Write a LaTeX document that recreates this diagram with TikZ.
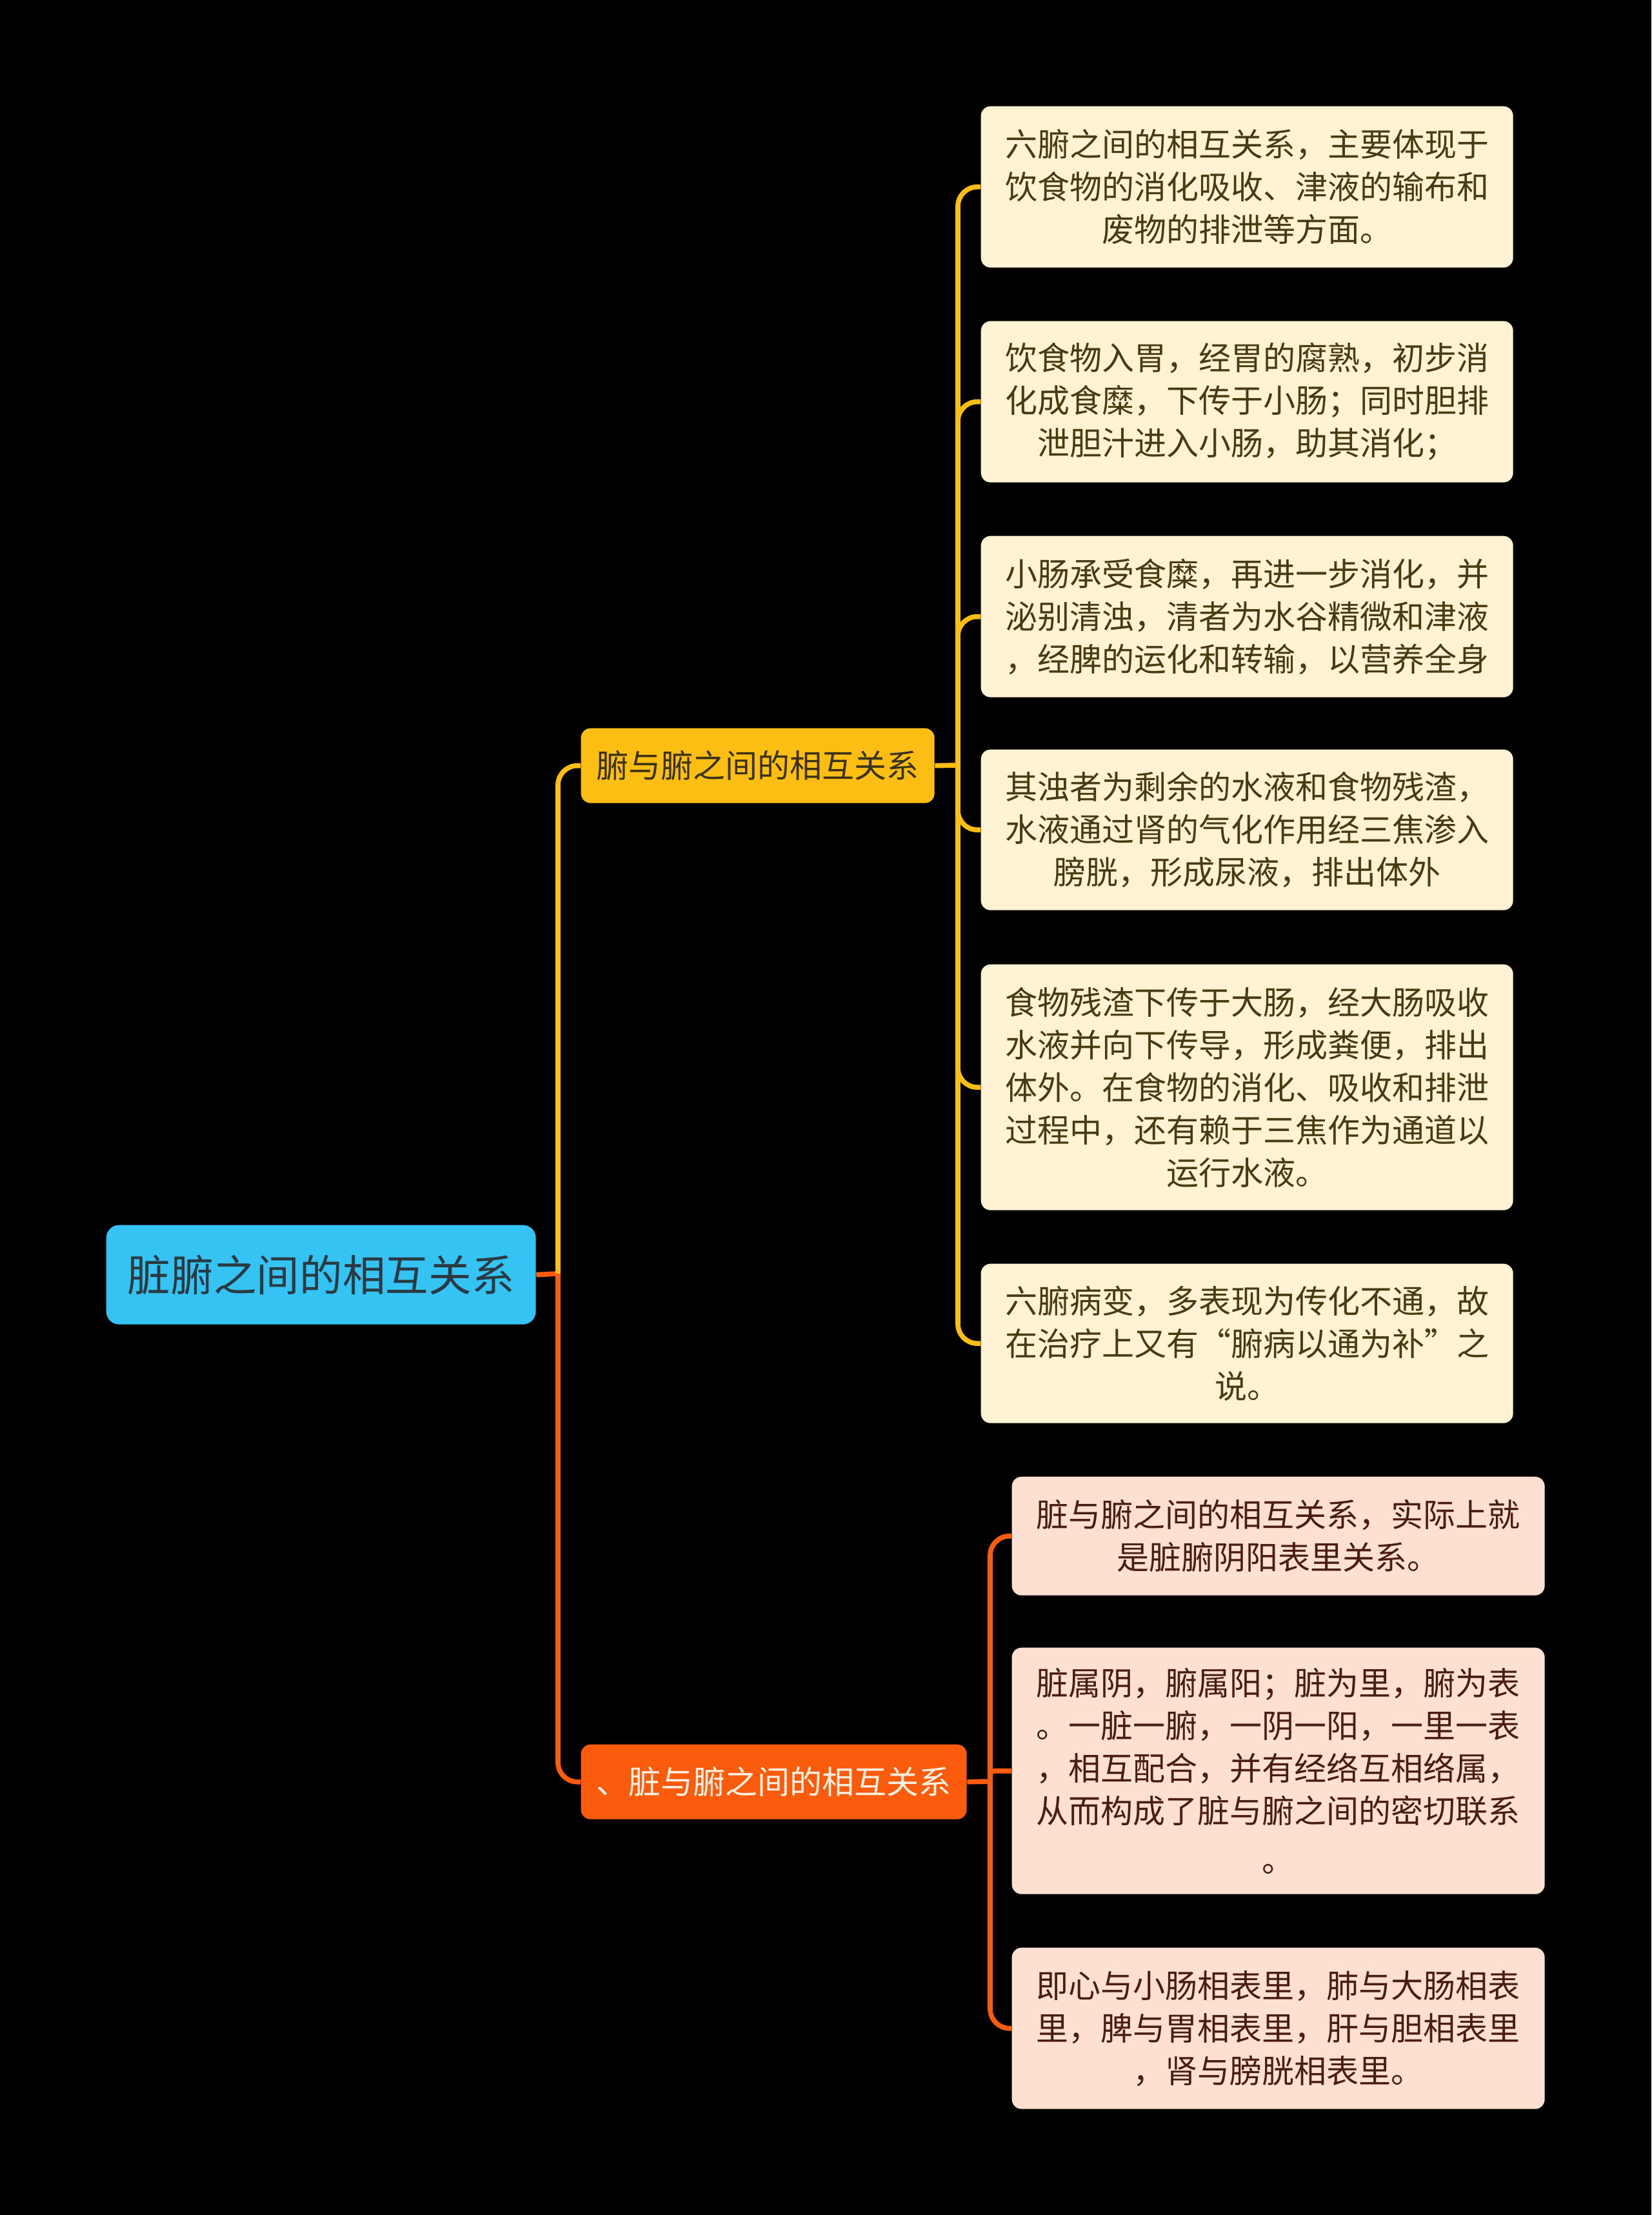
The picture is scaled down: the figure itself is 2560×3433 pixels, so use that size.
\documentclass[tikz,border=0pt]{standalone}
\usepackage{fontspec}
\setmainfont{Noto Sans CJK SC}
\definecolor{bgc}{HTML}{000000}
\definecolor{rootc}{HTML}{35C3F3}
\definecolor{roottxt}{HTML}{2B3A40}
\definecolor{yelc}{HTML}{FDBE14}
\definecolor{yeltxt}{HTML}{3A3216}
\definecolor{orgc}{HTML}{FA5B0C}
\definecolor{orgtxt}{HTML}{FFF1E2}
\definecolor{leafy}{HTML}{FFF3D4}
\definecolor{leafytxt}{HTML}{4A3A12}
\definecolor{leafo}{HTML}{FDE0D0}
\definecolor{leafotxt}{HTML}{4A1D0E}
\tikzset{
  box/.style={rectangle, rounded corners=4.5pt, inner sep=0pt, align=center, anchor=north west},
  rootbox/.style={box, fill=rootc, text=roottxt, rounded corners=6pt, font=\fontsize{20}{26}\selectfont},
  ybranch/.style={box, fill=yelc, text=yeltxt, font=\fontsize{15}{19.8}\selectfont},
  obranch/.style={box, fill=orgc, text=orgtxt, font=\fontsize{15}{19.8}\selectfont},
  yleaf/.style={box, fill=leafy, text=leafytxt, text width=247.5pt, font=\fontsize{15}{19.8}\selectfont},
  oleaf/.style={box, fill=leafo, text=leafotxt, text width=247.8pt, font=\fontsize{15}{19.8}\selectfont},
  yline/.style={draw=yelc, line width=2.3pt},
  oline/.style={draw=orgc, line width=2.3pt},
}
\begin{document}
\begin{tikzpicture}[x=0.3pt, y=-0.3pt]
\fill[bgc] (0,0) rectangle (2560,3433);
\useasboundingbox (0,0) rectangle (2560,3433);

% root and branches
\node[rootbox, minimum width=199.8pt, minimum height=46.2pt] (root) at (164,1898) {脏腑之间的相互关系};
\node[ybranch, minimum width=164.4pt, minimum height=34.8pt] (b1) at (900,1128) {腑与腑之间的相互关系};
\node[obranch, minimum width=179.4pt, minimum height=34.8pt] (b2) at (900,2703) {、脏与腑之间的相互关系};

% yellow leaves
\node[yleaf, minimum height=75pt] (y1) at (1520,164) {六腑之间的相互关系，主要体现于\\饮食物的消化吸收、津液的输布和\\废物的排泄等方面。};
\node[yleaf, minimum height=75pt] (y2) at (1520,497) {饮食物入胃，经胃的腐熟，初步消\\化成食糜，下传于小肠；同时胆排\\泄胆汁进入小肠，助其消化；};
\node[yleaf, minimum height=75pt] (y3) at (1520,830) {小肠承受食糜，再进一步消化，并\\泌别清浊，清者为水谷精微和津液\\，经脾的运化和转输，以营养全身};
\node[yleaf, minimum height=74.7pt] (y4) at (1520,1161) {其浊者为剩余的水液和食物残渣，\\水液通过肾的气化作用经三焦渗入\\膀胱，形成尿液，排出体外};
\node[yleaf, minimum height=114.3pt] (y5) at (1520,1494) {食物残渣下传于大肠，经大肠吸收\\水液并向下传导，形成粪便，排出\\体外。在食物的消化、吸收和排泄\\过程中，还有赖于三焦作为通道以\\运行水液。};
\node[yleaf, minimum height=74.1pt] (y6) at (1520,1958) {六腑病变，多表现为传化不通，故\\在治疗上又有“腑病以通为补”之\\说。};

% orange leaves
\node[oleaf, minimum height=55.2pt] (o1) at (1568,2288) {脏与腑之间的相互关系，实际上就\\是脏腑阴阳表里关系。};
\node[oleaf, minimum height=114.6pt] (o2) at (1568,2553) {脏属阴，腑属阳；脏为里，腑为表\\。一脏一腑，一阴一阳，一里一表\\，相互配合，并有经络互相络属，\\从而构成了脏与腑之间的密切联系\\[3pt]。};
\node[oleaf, minimum height=75pt] (o3) at (1568,3018) {即心与小肠相表里，肺与大肠相表\\里，脾与胃相表里，肝与胆相表里\\，肾与膀胱相表里。};

% junctions
\coordinate (j0) at (865,1974);
\coordinate (j1) at (1485,1186);
\coordinate (j2) at (1535,2761);

% root connectors
\draw[oline] (root.east) -- (j0);
\draw[yline, rounded corners=9pt] (j0) |- (b1.west);
\draw[oline, rounded corners=9pt] (j0) |- (b2.west);

% branch 1 connectors
\draw[yline] (b1.east) -- (j1);
\foreach \n in {y1,y2,y3,y4,y5,y6}{
  \draw[yline, rounded corners=9pt] (j1) |- (\n.west);
}

% branch 2 connectors
\draw[oline] (b2.east) -- (j2);
\draw[oline, rounded corners=9pt] (j2) |- (o1.west);
\draw[oline, rounded corners=2pt] (j2) |- (o2.west);
\draw[oline, rounded corners=9pt] (j2) |- (o3.west);
\end{tikzpicture}
\end{document}
